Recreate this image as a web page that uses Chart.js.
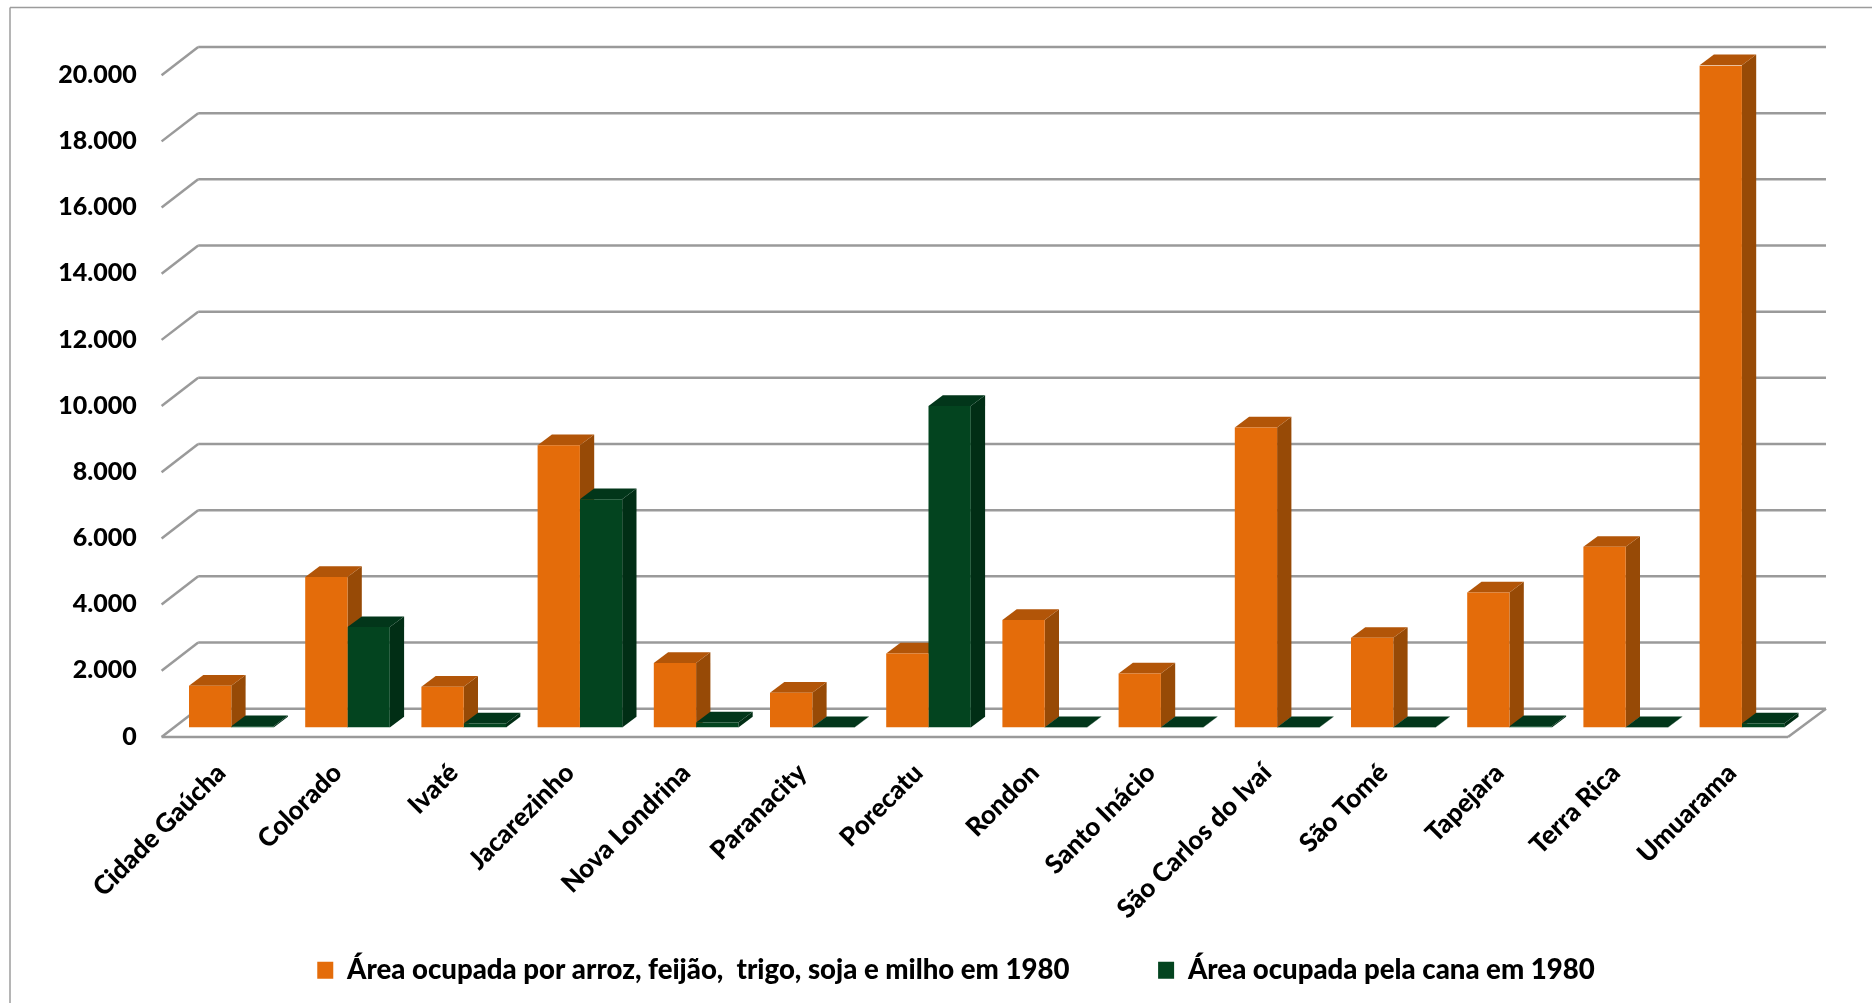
<!DOCTYPE html>
<html lang="pt-BR">
<head>
<meta charset="utf-8">
<title>Área ocupada em 1980</title>
<script src="https://cdn.jsdelivr.net/npm/chart.js@4/dist/chart.umd.min.js"></script>
<style>
  html, body { margin: 0; padding: 0; background: #fff; overflow: hidden; }
  canvas { display: block; }
</style>
</head>
<body>
<canvas id="chart" width="1872" height="1003"></canvas>
<script>
const CATEGORIES = ["Cidade Gaúcha", "Colorado", "Ivaté", "Jacarezinho", "Nova Londrina", "Paranacity", "Porecatu",
  "Rondon", "Santo Inácio", "São Carlos do Ivaí", "São Tomé", "Tapejara", "Terra Rica", "Umuarama"];
const GRAOS = [1265, 4550, 1230, 8530, 1950, 1050, 2240, 3250, 1630, 9070, 2710, 4080, 5460, 20020];
const CANA = [40, 3035, 120, 6900, 150, 10, 9720, 10, 10, 10, 10, 40, 10, 120];
const GRAOS_LABEL = "Área ocupada por arroz, feijão,  trigo, soja e milho em 1980";
const CANA_LABEL = "Área ocupada pela cana em 1980";
// NBSPs widen the gap between the two legend entries
const LEGEND_GAP = "\u00a0".repeat(12);

const FONT = "Lato, 'Open Sans', sans-serif";
const GRID = "#9a9a9a";
const DEPTH_X = 14.3, DEPTH_Y = 10.7;
const FACES = [
  { front: "#e46c0a", top: "#b25508", side: "#974a06" },
  { front: "#03441f", top: "#02361a", side: "#012e15" },
];

function line(ctx, x1, y1, x2, y2) {
  ctx.beginPath();
  ctx.moveTo(x1, y1);
  ctx.lineTo(x2, y2);
  ctx.stroke();
}

function face(ctx, color, pts) {
  ctx.fillStyle = color;
  ctx.beginPath();
  pts.forEach(([x, y], i) => i ? ctx.lineTo(x, y) : ctx.moveTo(x, y));
  ctx.closePath();
  ctx.fill();
}

// Excel style 3D look: walls, floor and the top/side faces of each bar
const box3d = {
  id: "box3d",
  afterLayout(chart) {
    chart.legend.left += 112;
  },
  beforeDraw(chart) {
    const { ctx, width, height } = chart;
    ctx.save();
    ctx.fillStyle = "#fff";
    ctx.fillRect(0, 0, width, height);
    ctx.strokeStyle = "#9c9c9c";
    ctx.lineWidth = 1.5;
    line(ctx, 10, 7.5, width, 7.5);
    line(ctx, 10, 7.5, 10, height);
    ctx.restore();
  },
  beforeDatasetsDraw(chart) {
    const { ctx, chartArea: { left, right }, scales: { y } } = chart;
    ctx.save();
    ctx.strokeStyle = GRID;
    ctx.lineWidth = 2.5;
    y.ticks.forEach(t => {
      const py = y.getPixelForValue(t.value);
      line(ctx, left - 11.6, py + 9.4, left + 25, py - 18.8);
      line(ctx, left + 25, py - 18.8, right + 26, py - 18.8);
      if (t.value === 0) {
        line(ctx, left - 11.6, py + 9.4, right - 12, py + 9.4);
        line(ctx, right - 12, py + 9.4, right + 26, py - 18.8);
      }
    });
    chart.data.datasets.forEach((ds, i) => {
      chart.getDatasetMeta(i).data.forEach(bar => {
        const l = bar.x - bar.width / 2, r = bar.x + bar.width / 2;
        face(ctx, FACES[i].side, [[r, bar.y], [r + DEPTH_X, bar.y - DEPTH_Y], [r + DEPTH_X, bar.base - DEPTH_Y], [r, bar.base]]);
        face(ctx, FACES[i].top, [[l, bar.y], [l + DEPTH_X, bar.y - DEPTH_Y], [r + DEPTH_X, bar.y - DEPTH_Y], [r, bar.y]]);
      });
    });
    ctx.restore();
  },
};

new Chart(document.getElementById("chart"), {
  type: "bar",
  data: {
    labels: CATEGORIES,
    datasets: [
      { label: GRAOS_LABEL + LEGEND_GAP, data: GRAOS, backgroundColor: FACES[0].front },
      { label: CANA_LABEL, data: CANA, backgroundColor: FACES[1].front },
    ],
  },
  options: {
    responsive: false,
    animation: false,
    events: [],
    categoryPercentage: 0.728,
    barPercentage: 1,
    layout: { padding: { left: 0, right: 72, top: 65.8, bottom: 9 } },
    plugins: {
      tooltip: { enabled: false },
      legend: {
        position: "bottom",
        labels: {
          color: "#000",
          font: { family: FONT, size: 27.6, weight: "900" },
          boxWidth: 16,
          boxHeight: 17,
          padding: 10,
        },
      },
    },
    scales: {
      x: {
        grid: { display: false },
        border: { display: false },
        afterFit(s) { s.height = 218.9; },
        ticks: {
          color: "#000",
          font: { family: FONT, size: 26, weight: "900" },
          minRotation: 45,
          maxRotation: 45,
          padding: 22,
          labelOffset: -10,
          autoSkip: false,
        },
      },
      y: {
        min: 0,
        max: 20000,
        grid: { display: false },
        border: { display: false },
        afterFit(s) { s.width = 173.2; },
        ticks: {
          stepSize: 2000,
          color: "#000",
          font: { family: FONT, size: 25, weight: "900" },
          padding: 28.5,
          labelOffset: 9,
          callback: v => v.toLocaleString("pt-BR"),
        },
      },
    },
  },
  plugins: [box3d],
});
</script>
</body>
</html>
